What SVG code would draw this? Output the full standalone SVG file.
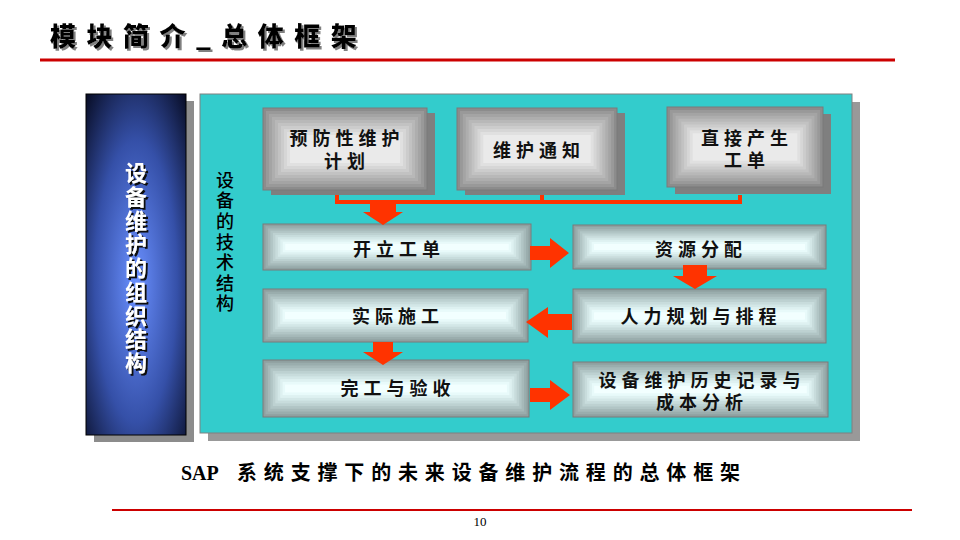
<svg xmlns="http://www.w3.org/2000/svg" xmlns:xlink="http://www.w3.org/1999/xlink" width="960" height="540" viewBox="0 0 960 540">
<style>
.cjk{font-family:"Noto Sans CJK SC","Noto Sans",sans-serif}
.vert{writing-mode:vertical-rl;text-orientation:upright}
.lbl{font-family:"Noto Sans CJK SC",sans-serif;font-size:18px;font-weight:700;fill:#111;text-anchor:middle;letter-spacing:5px}
.g0{fill:#8C8C8C}.g1{fill:#999}.g2{fill:#A4A4A4}.g3{fill:#AEAEAE}.g4{fill:#B8B8B8}.g5{fill:#C2C2C2}.g6{fill:#CCC}.g7{fill:#D6D6D6}.g8{fill:#E0E0E0}.g9{fill:#EAEAEA}
.c0{fill:#8FA0A0}.c1{fill:#9AADAD}.c2{fill:#A6B9B9}.c3{fill:#B1C5C5}.c4{fill:#BDD1D1}.c5{fill:#C8DCDC}.c6{fill:#D3E7E7}.c7{fill:#DEF1F1}.c8{fill:#E8FAFA}.c9{fill:#F2FFFF}
.edge{fill:none;stroke:#7A7A7A;stroke-width:1}
.shadow{fill:#7F7F7F}
.arrow{fill:#FF3300}
</style>
<defs>
<filter id="tshadow" x="-10%" y="-10%" width="130%" height="130%">
<feDropShadow dx="2" dy="2" stdDeviation="0.6" flood-color="#808080" flood-opacity="1"/>
</filter>
<filter id="wshadow" x="-20%" y="-5%" width="150%" height="115%">
<feDropShadow dx="2" dy="2" stdDeviation="0.4" flood-color="#101010" flood-opacity="1"/>
</filter>
<radialGradient id="blue" cx="0.5" cy="0.55" r="0.75">
<stop offset="0" stop-color="#6A90FF"/>
<stop offset="0.55" stop-color="#3550A8"/>
<stop offset="1" stop-color="#060A20"/>
</radialGradient>
<symbol id="bevelG" viewBox="0 0 164 82" preserveAspectRatio="none">
<rect class="g0" x="0" y="0" width="164" height="82"/>
<rect class="g1" x="3" y="3" width="158" height="76"/>
<rect class="g2" x="6" y="6" width="152" height="70"/>
<rect class="g3" x="9" y="9" width="146" height="64"/>
<rect class="g4" x="12" y="12" width="140" height="58"/>
<rect class="g5" x="15" y="15" width="134" height="52"/>
<rect class="g6" x="18" y="18" width="128" height="46"/>
<rect class="g7" x="21" y="21" width="122" height="40"/>
<rect class="g8" x="24" y="24" width="116" height="34"/>
<rect class="g9" x="27" y="27" width="110" height="28"/>
</symbol>
<symbol id="bevelC" viewBox="0 0 260 50" preserveAspectRatio="none">
<rect class="c0" x="0" y="0" width="260" height="50"/>
<rect class="c1" x="2.4" y="2.4" width="255.2" height="45.2"/>
<rect class="c2" x="4.8" y="4.8" width="250.4" height="40.4"/>
<rect class="c3" x="7.2" y="7.2" width="245.6" height="35.6"/>
<rect class="c4" x="9.6" y="9.6" width="240.8" height="30.8"/>
<rect class="c5" x="12" y="12" width="236" height="26"/>
<rect class="c6" x="14.4" y="14.4" width="231.2" height="21.2"/>
<rect class="c7" x="16.8" y="16.8" width="226.4" height="16.4"/>
<rect class="c8" x="19.2" y="19.2" width="221.6" height="11.6"/>
<rect class="c9" x="21.6" y="21.6" width="216.8" height="6.8"/>
</symbol>
</defs>
<rect x="0" y="0" width="960" height="540" fill="#FFFFFF"/>

<g id="title">
<text x="50" y="46" class="cjk" font-size="26" font-weight="900" fill="#000" letter-spacing="10.5" filter="url(#tshadow)">模块简介_总体框架</text>
<line x1="40" y1="60" x2="895" y2="60" stroke="#CC0000" stroke-width="3"/>
</g>

<g id="org-panel">
<rect x="94" y="101" width="100" height="341" fill="#8C8C8C"/>
<rect x="86" y="94" width="100" height="341" fill="url(#blue)" stroke="#000" stroke-width="1"/>
<text x="136" y="162" class="cjk vert" font-size="22" font-weight="700" fill="#FFFFFF" letter-spacing="1.7" filter="url(#wshadow)">设备维护的组织结构</text>
</g>

<g id="tech-panel">
<rect x="208" y="102" width="652" height="339" fill="#999999"/>
<rect x="200" y="94" width="652" height="339" fill="#33CCCC" stroke="#808080" stroke-width="1"/>
<text x="225" y="171" class="cjk vert" font-size="18" font-weight="500" fill="#000" letter-spacing="2.6">设备的技术结构</text>
</g>

<g id="node-plan">
<rect class="shadow" x="271" y="113" width="164" height="82"/>
<use xlink:href="#bevelG" x="263" y="108" width="164" height="82"/>
<rect class="edge" x="263" y="108" width="164" height="82"/>
<text class="lbl"><tspan x="347" y="145">预防性维护</tspan><tspan x="347" y="168">计划</tspan></text>
</g>
<g id="node-notice">
<rect class="shadow" x="465" y="113" width="160" height="82"/>
<use xlink:href="#bevelG" x="457" y="108" width="160" height="82"/>
<rect class="edge" x="457" y="108" width="160" height="82"/>
<text class="lbl" x="539" y="157">维护通知</text>
</g>
<g id="node-direct">
<rect class="shadow" x="675" y="114" width="156" height="80"/>
<use xlink:href="#bevelG" x="667" y="107" width="156" height="80"/>
<rect class="edge" x="667" y="107" width="156" height="80"/>
<text class="lbl"><tspan x="747" y="145">直接产生</tspan><tspan x="747" y="167">工单</tspan></text>
</g>

<g id="node-open">
<use xlink:href="#bevelC" x="263" y="224" width="268" height="46"/>
<rect class="edge" x="263" y="224" width="268" height="46"/>
<text class="lbl" x="399" y="256">开立工单</text>
</g>
<g id="node-resource">
<use xlink:href="#bevelC" x="573" y="225" width="253" height="44"/>
<rect class="edge" x="573" y="225" width="253" height="44"/>
<text class="lbl" x="701" y="256">资源分配</text>
</g>
<g id="node-work">
<use xlink:href="#bevelC" x="263" y="289" width="265" height="53"/>
<rect class="edge" x="263" y="289" width="265" height="53"/>
<text class="lbl" x="398" y="323">实际施工</text>
</g>
<g id="node-schedule">
<use xlink:href="#bevelC" x="573" y="289" width="253" height="54"/>
<rect class="edge" x="573" y="289" width="253" height="54"/>
<text class="lbl" x="701" y="323">人力规划与排程</text>
</g>
<g id="node-finish">
<use xlink:href="#bevelC" x="263" y="360" width="266" height="57"/>
<rect class="edge" x="263" y="360" width="266" height="57"/>
<text class="lbl" x="398" y="395">完工与验收</text>
</g>
<g id="node-history">
<use xlink:href="#bevelC" x="573" y="362" width="255" height="55"/>
<rect class="edge" x="573" y="362" width="255" height="55"/>
<text class="lbl"><tspan x="702" y="387">设备维护历史记录与</tspan><tspan x="702" y="409">成本分析</tspan></text>
</g>

<g id="connectors">
<path d="M337,195 V202 H740 V195 M542,195 V202" fill="none" stroke="#FF3300" stroke-width="4"/>
<polygon class="arrow" points="370,204 396,204 396,212 403,212 383,225 363,212 370,212"/>
<polygon class="arrow" points="530,246 550,246 550,238 569,253 550,268 550,260 530,260"/>
<polygon class="arrow" points="683,265 707,265 707,276 717,276 695,289 673,276 683,276"/>
<polygon class="arrow" points="572,314 548,314 548,307 526,322 548,338 548,330 572,330"/>
<polygon class="arrow" points="373,342 393,342 393,352 403,352 383,365 363,352 373,352"/>
<polygon class="arrow" points="530,388 550,388 550,380 570,395 550,410 550,402 530,402"/>
</g>

<g id="caption">
<text x="181" y="480" font-family="Liberation Serif, Noto Sans CJK SC, serif" font-size="20" font-weight="700" fill="#000">SAP</text>
<text x="237" y="480" font-family="Liberation Serif, Noto Sans CJK SC, serif" font-size="20" font-weight="700" fill="#000" textLength="503" lengthAdjust="spacing">系统支撑下的未来设备维护流程的总体框架</text>
<line x1="112" y1="510" x2="912" y2="510" stroke="#CC0000" stroke-width="2"/>
<text x="480" y="526" font-family="Liberation Serif, serif" font-size="13" fill="#000" text-anchor="middle">10</text>
</g>
</svg>
